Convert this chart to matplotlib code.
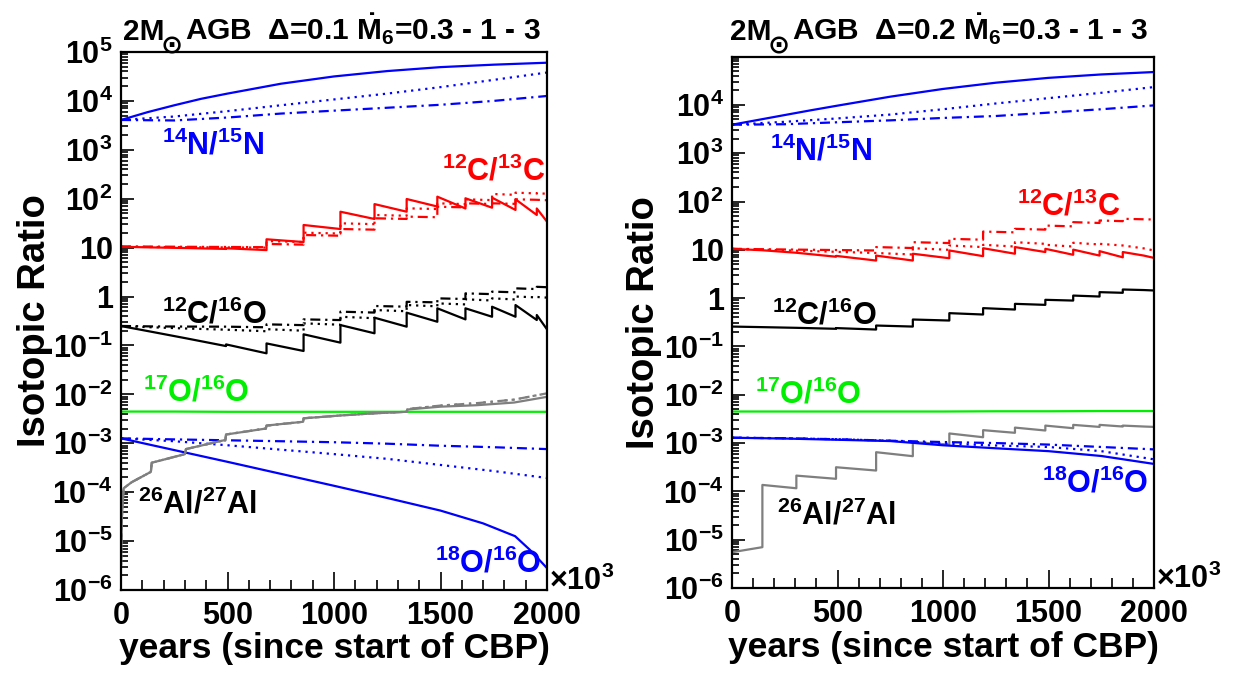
import numpy as np
import matplotlib.pyplot as plt
from matplotlib.ticker import LogLocator, MultipleLocator, FuncFormatter, NullFormatter

plt.rcParams['font.family'] = ['Liberation Sans', 'DejaVu Sans']
plt.rcParams['font.weight'] = 'bold'
plt.rcParams['mathtext.fontset'] = 'custom'
plt.rcParams['mathtext.rm'] = 'Liberation Sans:bold'
plt.rcParams['mathtext.it'] = 'Liberation Sans:bold'
plt.rcParams['mathtext.bf'] = 'Liberation Sans:bold'
plt.rcParams['mathtext.default'] = 'rm'

# time in units of 10^3 yr since start of CBP
t_grid = [0, 250, 500, 750, 1000, 1250, 1500, 1750, 2000]
t_fine = [0, 125, 250, 375, 500, 750, 1000, 1250, 1500, 1750, 2000]
# thermal pulses (jumps of the step-like curves)
pulses = [144, 305, 493, 683, 857, 1030, 1190, 1341, 1485, 1617, 1742, 1852, 1952]

# ---------------- left panel, Delta = 0.1 ----------------
n15_a_solid = [4070, 5890, 8130, 11000, 14100, 22400, 31600, 40700, 49000, 55000, 60300]
n15_a_dot = [4070, 4790, 6170, 8130, 10700, 14100, 19100, 26900, 38000]
n15_a_dash = [4070, 3980, 4570, 5500, 6310, 7240, 8320, 10000, 12600]

# 12C/13C: value just after each pulse (start) and just before the next (end)
c13_a_solid_start = [10.4, 10.1, 9.8, 9.7, 14.8, 29.0, 54.2, 77.6, 98.6, 110, 102, 105, 97.2, 63.1]
c13_a_solid_end = [10.1, 9.8, 9.4, 8.9, 13.0, 24.0, 38.5, 54.2, 69.2, 63.1, 65.5, 58.9, 46.5, 33.9]
c13_a_dot_start = [10.4, 10.3, 10.2, 10.1, 13.6, 20.2, 31.4, 46.5, 63.6, 80.5, 97.2, 125, 133, 130]
c13_a_dot_end = [10.3, 10.2, 10.1, 10.0, 13.0, 19.4, 30.2, 44.8, 61.5, 77.5, 93.5, 120, 128, 126]
c13_a_dash_start = [10.6, 10.5, 10.4, 10.3, 11.9, 18.1, 24.0, 39.8, 43.0, 68.6, 80.5, 80.5, 97.2, 95.0]
c13_a_dash_end = [10.5, 10.4, 10.3, 10.2, 11.5, 17.5, 23.3, 38.6, 41.8, 66.5, 78.0, 78.5, 95.0, 93.0]

c16_a_solid_start = [0.249, 0.190, 0.140, 0.105, 0.110, 0.169, 0.261, 0.369, 0.467, 0.574, 0.574, 0.619, 0.670, 0.419]
c16_a_solid_end = [0.190, 0.140, 0.097, 0.069, 0.077, 0.114, 0.177, 0.242, 0.305, 0.341, 0.386, 0.386, 0.331, 0.213]
c16_a_dot_start = [0.249, 0.235, 0.222, 0.210, 0.215, 0.283, 0.386, 0.530, 0.670, 0.724, 0.877, 0.918, 1.00, 0.98]
c16_a_dot_end = [0.235, 0.222, 0.210, 0.195, 0.200, 0.265, 0.360, 0.500, 0.630, 0.690, 0.830, 0.870, 0.96, 0.95]
c16_a_dash_start = [0.250, 0.245, 0.243, 0.242, 0.270, 0.341, 0.490, 0.640, 0.780, 0.918, 1.16, 1.26, 1.47, 1.58]
c16_a_dash_end = [0.245, 0.243, 0.242, 0.235, 0.260, 0.330, 0.470, 0.620, 0.760, 0.890, 1.12, 1.22, 1.42, 1.55]

o17_a = [4.45e-3, 4.45e-3, 4.4e-3, 4.4e-3, 4.4e-3, 4.4e-3, 4.4e-3, 4.4e-3, 4.4e-3]

al_a_t = [0, 4, 12, 50, 140, 144, 300, 305, 490, 493, 680, 683, 855, 857,
          1030, 1190, 1341, 1345, 1500, 1670, 1845, 2000]
al_a_solid = [3.2e-6, 3.2e-5, 1.2e-4, 1.6e-4, 2.6e-4, 4.0e-4, 6.0e-4, 7.6e-4, 1.17e-3, 1.51e-3,
              2.0e-3, 2.3e-3, 2.75e-3, 3.24e-3, 3.7e-3, 4.1e-3, 4.4e-3, 4.9e-3, 5.6e-3, 6.0e-3,
              6.8e-3, 8.9e-3]
al_a_alt = [3.2e-6, 3.2e-5, 1.2e-4, 1.6e-4, 2.6e-4, 4.0e-4, 6.0e-4, 7.6e-4, 1.17e-3, 1.51e-3,
            2.0e-3, 2.3e-3, 2.75e-3, 3.24e-3, 3.7e-3, 4.1e-3, 4.4e-3, 5.0e-3, 5.9e-3, 6.6e-3,
            7.8e-3, 1.05e-2]

o18_a_t = [0, 500, 1000, 1250, 1500, 1700, 1850, 1920, 2000]
o18_a_solid = [1.26e-3, 4.17e-4, 1.35e-4, 7.6e-5, 4.2e-5, 2.3e-5, 1.26e-5, 6.6e-6, 2.8e-6]
o18_a_dot = [1.26e-3, 1.10e-3, 9.1e-4, 7.4e-4, 6.0e-4, 4.8e-4, 3.6e-4, 2.7e-4, 1.95e-4]
o18_a_dash = [1.26e-3, 1.20e-3, 1.15e-3, 1.10e-3, 1.05e-3, 9.8e-4, 8.9e-4, 8.3e-4, 7.6e-4]

# ---------------- right panel, Delta = 0.2 ----------------
n15_b_solid = [3890, 4900, 6170, 7760, 9660, 14800, 21400, 28800, 36300, 42700, 47900]
n15_b_dot = [3890, 4470, 5250, 6310, 8130, 10700, 13800, 17800, 23400]
n15_b_dash = [3890, 3980, 4370, 4790, 5370, 5890, 6920, 8130, 9770]

c13_b_solid_start = [10.5, 9.8, 8.7, 7.5, 7.6, 8.3, 9.7, 10.8, 11.4, 10.5, 10.1, 9.4, 9.0, 7.6]
c13_b_solid_end = [9.8, 8.7, 7.2, 6.0, 6.0, 6.7, 7.4, 8.3, 9.0, 7.9, 7.6, 7.0, 7.6, 6.8]
c13_b_dot_start = [10.5, 10.1, 9.6, 9.1, 8.6, 10.8, 12.3, 12.7, 14.4, 12.7, 14.0, 13.3, 12.3, 10.7]
c13_b_dot_end = [10.1, 9.6, 9.1, 8.6, 8.0, 10.0, 11.4, 11.7, 13.3, 11.7, 12.9, 12.3, 10.7, 9.7]
c13_b_dash_start = [10.5, 10.3, 10.1, 9.9, 11.4, 14.4, 16.9, 23.9, 27.2, 31.8, 37.4, 40.5, 43.9, 42.9]
c13_b_dash_end = [10.3, 10.1, 9.9, 9.7, 10.9, 13.8, 16.2, 23.0, 26.2, 30.6, 36.0, 39.2, 42.9, 42.4]

c16_b_start = [0.258, 0.251, 0.243, 0.240, 0.271, 0.361, 0.489, 0.621, 0.762, 0.923, 1.13, 1.33, 1.51, 1.47]
c16_b_end = [0.251, 0.243, 0.232, 0.224, 0.258, 0.344, 0.458, 0.581, 0.726, 0.891, 1.08, 1.29, 1.47, 1.44]

o17_b = [4.5e-3, 4.5e-3, 4.5e-3, 4.5e-3, 4.5e-3, 4.55e-3, 4.55e-3, 4.6e-3, 4.6e-3]

al_b_start = [5.5e-6, 1.36e-4, 2.12e-4, 3.16e-4, 6.47e-4, 1.05e-3, 1.58e-3, 1.85e-3, 2.09e-3,
              2.30e-3, 2.38e-3, 2.38e-3, 2.30e-3, 2.20e-3]
al_b_end = [7.0e-6, 1.16e-4, 1.82e-4, 2.70e-4, 5.35e-4, 9.3e-4, 1.32e-3, 1.63e-3, 1.82e-3,
            2.03e-3, 2.16e-3, 2.20e-3, 2.20e-3, 2.16e-3]

o18_b_solid = [1.29e-3, 1.24e-3, 1.17e-3, 1.10e-3, 9.0e-4, 7.8e-4, 6.8e-4, 5.4e-4, 3.7e-4]
o18_b_dot = [1.29e-3, 1.26e-3, 1.20e-3, 1.12e-3, 9.8e-4, 8.9e-4, 8.3e-4, 6.8e-4, 4.6e-4]
o18_b_dash = [1.29e-3, 1.26e-3, 1.20e-3, 1.12e-3, 1.05e-3, 1.0e-3, 9.3e-4, 8.3e-4, 7.4e-4]


def saw(starts, ends):
    # build a step/sawtooth polyline: jumps at the pulses
    edges = [0] + pulses + [2000]
    xs, ys = [], []
    for i in range(len(starts)):
        xs += [edges[i], edges[i + 1]]
        ys += [starts[i], ends[i]]
    return xs, ys


BLUE = '#0000ff'
RED = '#ff0000'
GREEN = '#00ee00'
GRAY = '#7f7f7f'
LW = 1.6
DOT = (0, (1.0, 2.2))
DASHDOT = (0, (4.5, 2.2, 1.0, 2.2))


def ylab(v, pos):
    e = int(round(np.log10(v)))
    if e == 0:
        return '1'
    if e == 1:
        return '10'
    return r'$10^{%d}$' % e


def style_axes(ax, ytop):
    ax.set_yscale('log')
    ax.set_xlim(0, 2000)
    ax.set_ylim(1e-6, ytop)
    ax.xaxis.set_major_locator(MultipleLocator(500))
    ax.xaxis.set_minor_locator(MultipleLocator(100))
    ax.yaxis.set_major_locator(LogLocator(base=10, numticks=20))
    ax.yaxis.set_minor_locator(LogLocator(base=10, subs=np.arange(2, 10), numticks=20))
    ax.yaxis.set_major_formatter(FuncFormatter(ylab))
    ax.yaxis.set_minor_formatter(NullFormatter())
    ax.tick_params(axis='both', which='both', direction='in', top=False, right=False,
                   labelsize=22, width=1.2)
    ax.tick_params(axis='x', which='major', length=13, pad=8)
    ax.tick_params(axis='x', which='minor', length=7)
    ax.tick_params(axis='y', which='major', length=9, pad=6)
    ax.tick_params(axis='y', which='minor', length=5)
    for s in ax.spines.values():
        s.set_linewidth(1.6)
    ax.set_xlabel('years (since start of CBP)', fontsize=25.5, fontweight='bold')
    ax.set_ylabel('Isotopic Ratio', fontsize=27.5, fontweight='bold')
    ax.xaxis.label.set_va('center')
    ax.text(1.005, 0.0, r'$\times$10$^{3}$', transform=ax.transAxes, ha='left',
            va='baseline', fontsize=22)


fig = plt.figure(figsize=(12.39, 6.92), dpi=100)
renderer = fig.canvas.get_renderer()
W = fig.get_figwidth() * fig.dpi


def title(x0, y0, rest):
    # "2M" + sun symbol as a low subscript + the rest of the title
    t1 = fig.text(x0, y0, '2M', ha='left', va='baseline', fontsize=21.5)
    x1 = t1.get_window_extent(renderer).x1 / W
    t2 = fig.text(x1 - 0.003, y0 - 0.019, '\u2299', ha='left', va='baseline',
                  fontsize=19, family='DejaVu Sans', fontweight='bold')
    x2 = t2.get_window_extent(renderer).x1 / W
    fig.text(x2 + 0.002, y0, rest, ha='left', va='baseline', fontsize=21.5)


# ---------------- left ----------------
ax = fig.add_axes([0.0977, 0.1474, 0.3438, 0.7775])
ax.plot(t_fine, n15_a_solid, color=BLUE, lw=LW)
ax.plot(t_grid, n15_a_dot, color=BLUE, lw=LW, ls=DOT)
ax.plot(t_grid, n15_a_dash, color=BLUE, lw=LW, ls=DASHDOT)
ax.plot(*saw(c13_a_solid_start, c13_a_solid_end), color=RED, lw=LW)
ax.plot(*saw(c13_a_dot_start, c13_a_dot_end), color=RED, lw=LW, ls=DOT)
ax.plot(*saw(c13_a_dash_start, c13_a_dash_end), color=RED, lw=LW, ls=DASHDOT)
ax.plot(*saw(c16_a_solid_start, c16_a_solid_end), color='black', lw=LW)
ax.plot(*saw(c16_a_dot_start, c16_a_dot_end), color='black', lw=LW, ls=DOT)
ax.plot(*saw(c16_a_dash_start, c16_a_dash_end), color='black', lw=LW, ls=DASHDOT)
ax.plot(t_grid, o17_a, color=GREEN, lw=LW)
ax.plot(t_grid, o18_a_dot, color=BLUE, lw=LW, ls=DOT)
ax.plot(t_grid, o18_a_dash, color=BLUE, lw=LW, ls=DASHDOT)
ax.plot(o18_a_t, o18_a_solid, color=BLUE, lw=LW)
ax.plot(al_a_t, al_a_alt, color=GRAY, lw=LW, ls=DASHDOT)
ax.plot(al_a_t, al_a_alt, color=GRAY, lw=LW, ls=DOT)
ax.plot(al_a_t, al_a_solid, color=GRAY, lw=LW)
style_axes(ax, 1e5)
ax.yaxis.set_label_coords(-0.160, 0.5)
ax.xaxis.set_label_coords(0.5, -0.108)

lab = dict(transform=ax.transAxes, ha='left', va='baseline', fontsize=22)
ax.text(0.096, 0.810, r'$^{14}$N/$^{15}$N', color=BLUE, **lab)
ax.text(0.754, 0.762, r'$^{12}$C/$^{13}$C', color=RED, **lab)
ax.text(0.096, 0.496, r'$^{12}$C/$^{16}$O', color='black', **lab)
ax.text(0.052, 0.351, r'$^{17}$O/$^{16}$O', color=GREEN, **lab)
ax.text(0.040, 0.143, r'$^{26}$Al/$^{27}$Al', color='black', **lab)
ax.text(0.737, 0.033, r'$^{18}$O/$^{16}$O', color=BLUE, **lab)

title(0.0993, 0.942, r'AGB  $\Delta$=0.1 $\dot{M}_{6}$=0.3 - 1 - 3')

# ---------------- right ----------------
ax = fig.add_axes([0.5908, 0.1503, 0.3406, 0.7673])
ax.plot(t_fine, n15_b_solid, color=BLUE, lw=LW)
ax.plot(t_grid, n15_b_dot, color=BLUE, lw=LW, ls=DOT)
ax.plot(t_grid, n15_b_dash, color=BLUE, lw=LW, ls=DASHDOT)
ax.plot(*saw(c13_b_solid_start, c13_b_solid_end), color=RED, lw=LW)
ax.plot(*saw(c13_b_dot_start, c13_b_dot_end), color=RED, lw=LW, ls=DOT)
ax.plot(*saw(c13_b_dash_start, c13_b_dash_end), color=RED, lw=LW, ls=DASHDOT)
ax.plot(*saw(c16_b_start, c16_b_end), color='black', lw=LW)
ax.plot(t_grid, o17_b, color=GREEN, lw=LW)
ax.plot(*saw(al_b_start, al_b_end), color=GRAY, lw=LW)
ax.plot(t_grid, o18_b_dot, color=BLUE, lw=LW, ls=DOT)
ax.plot(t_grid, o18_b_dash, color=BLUE, lw=LW, ls=DASHDOT)
ax.plot(t_grid, o18_b_solid, color=BLUE, lw=LW)
style_axes(ax, 9.8e4)
ax.yaxis.set_label_coords(-0.166, 0.5)
ax.xaxis.set_label_coords(0.5, -0.113)

lab = dict(transform=ax.transAxes, ha='left', va='baseline', fontsize=22)
ax.text(0.090, 0.806, r'$^{14}$N/$^{15}$N', color=BLUE, **lab)
ax.text(0.675, 0.702, r'$^{12}$C/$^{13}$C', color=RED, **lab)
ax.text(0.095, 0.497, r'$^{12}$C/$^{16}$O', color='black', **lab)
ax.text(0.055, 0.348, r'$^{17}$O/$^{16}$O', color=GREEN, **lab)
ax.text(0.107, 0.119, r'$^{26}$Al/$^{27}$Al', color='black', **lab)
ax.text(0.735, 0.179, r'$^{18}$O/$^{16}$O', color=BLUE, **lab)

title(0.589, 0.942, r'AGB  $\Delta$=0.2 $\dot{M}_{6}$=0.3 - 1 - 3')

fig.savefig('out.png', dpi=100)
